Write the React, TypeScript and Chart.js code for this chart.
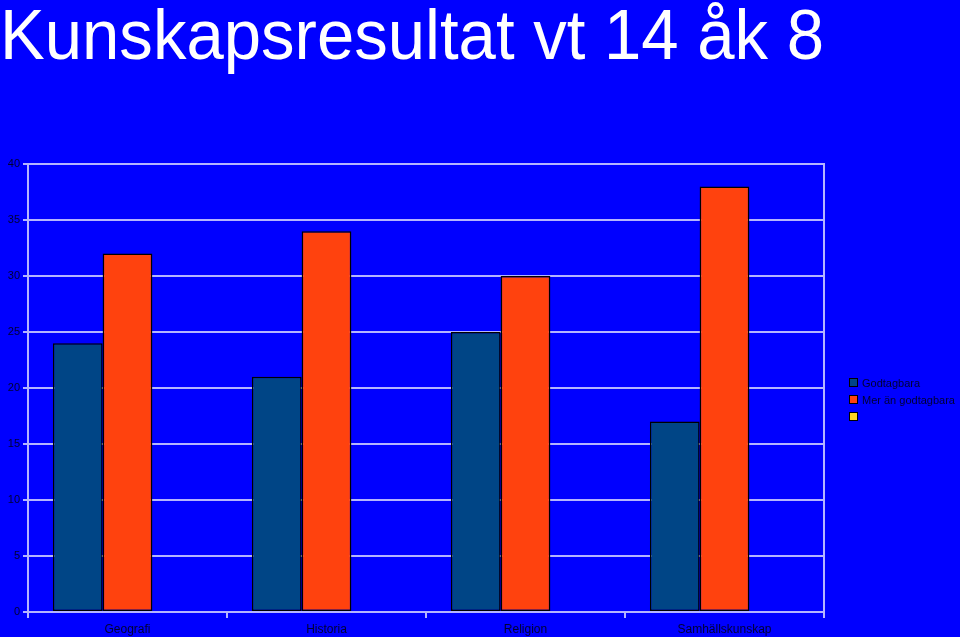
import React, { useEffect, useRef } from "react";
import { Chart, registerables } from "chart.js";

Chart.register(...registerables);

const categories = ["Geografi", "Historia", "Religion", "Samhällskunskap"];
const godtagbara = [24, 21, 25, 17];
const merAnGodtagbara = [32, 34, 30, 38];
const tomSerie = [null, null, null, null];
const seriesLabels = ["Godtagbara", "Mer än godtagbara", ""];
const seriesColors = ["#004586", "#ff420e", "#ffd320"];
const titleText = "Kunskapsresultat vt 14 åk 8";

const GRID = "#b4b4ff";
const TEXT = "#000033";

export default function App() {
  const ref = useRef<HTMLCanvasElement | null>(null);

  useEffect(() => {
    document.body.style.margin = "0";
    document.body.style.overflow = "hidden";
    const canvas = ref.current;
    if (!canvas) return;
    const chart = new Chart(canvas, {
      type: "bar",
      data: {
        labels: categories,
        datasets: [godtagbara, merAnGodtagbara, tomSerie].map((d, i) => ({
          label: seriesLabels[i],
          data: d as any,
          backgroundColor: seriesColors[i],
          borderColor: "#000000",
          borderWidth: 1.5,
          borderSkipped: false,
          categoryPercentage: 0.75,
          barPercentage: 1,
        })),
      },
      options: {
        animation: false,
        responsive: false,
        events: [],
        layout: { padding: { left: 0, right: 136, top: 0, bottom: 0 } },
        plugins: {
          legend: { display: false },
          tooltip: { enabled: false },
          title: {
            display: true,
            text: titleText,
            align: "start",
            color: "#ffffff",
            font: { family: "'Liberation Sans', Arial, sans-serif", size: 70, weight: "normal", lineHeight: 1 },
            padding: { top: 5, bottom: 89 },
          },
        },
        scales: {
          x: {
            grid: {
              display: true,
              drawOnChartArea: false,
              drawTicks: true,
              tickLength: 6,
              color: GRID,
              lineWidth: 2,
            },
            border: { display: true, color: GRID, width: 2 },
            ticks: {
              color: TEXT,
              padding: 4,
              font: { family: "'Liberation Sans', Arial, sans-serif", size: 12 },
            },
            afterFit: (axis: any) => {
              axis.height = 25;
            },
          },
          y: {
            min: 0,
            max: 40,
            ticks: {
              stepSize: 5,
              color: TEXT,
              padding: 3,
              font: { family: "'Liberation Sans', Arial, sans-serif", size: 11 },
            },
            grid: { color: GRID, lineWidth: 2, tickLength: 5 },
            border: { display: true, color: GRID, width: 2 },
            afterFit: (axis: any) => {
              axis.width = 28;
            },
          },
          y2: {
            position: "right",
            display: true,
            min: 0,
            max: 40,
            grid: { display: false },
            ticks: { display: false },
            border: { display: true, color: GRID, width: 2 },
            afterFit: (axis: any) => {
              axis.width = 0;
            },
          },
        },
      },
    });
    return () => chart.destroy();
  }, []);

  const legendItemStyle: React.CSSProperties = {
    display: "flex",
    alignItems: "center",
    height: 17,
    whiteSpace: "nowrap",
  };

  return (
    <div style={{ position: "relative", width: 960, height: 637, background: "#0000ff", overflow: "hidden" }}>
      <canvas ref={ref} width={960} height={637} style={{ display: "block" }} />
      <div
        style={{
          position: "absolute",
          left: 849,
          top: 374,
          fontFamily: "'Liberation Sans', Arial, sans-serif",
          fontSize: 11,
          color: TEXT,
        }}
      >
        {seriesLabels.map((l, i) => (
          <div key={i} style={legendItemStyle}>
            <span
              style={{
                display: "inline-block",
                width: 7,
                height: 7,
                background: seriesColors[i],
                border: "1px solid #000",
                marginRight: 4,
              }}
            />
            <span>{l}</span>
          </div>
        ))}
      </div>
    </div>
  );
}
